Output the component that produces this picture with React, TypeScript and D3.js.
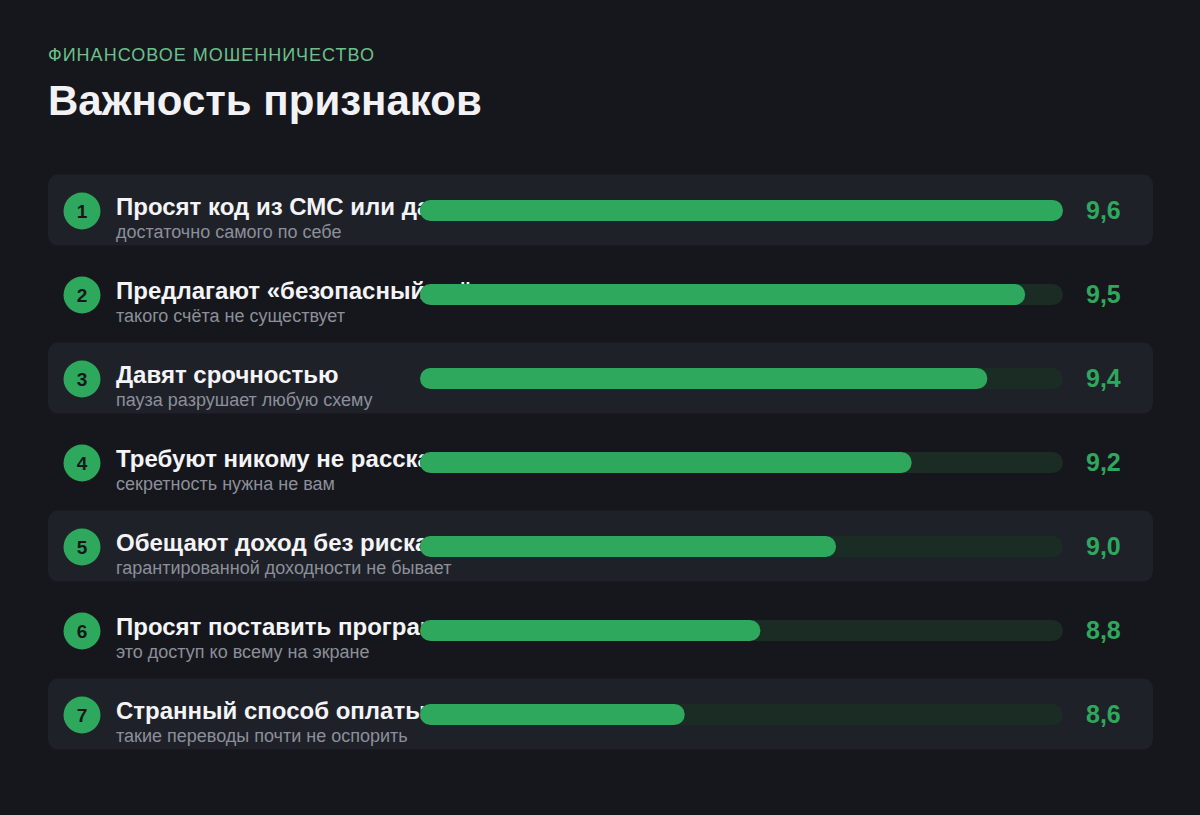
import React from "react";
import * as d3 from "d3";

const titles = [
  "Просят код из СМС или данные карты",
  "Предлагают «безопасный счёт»",
  "Давят срочностью",
  "Требуют никому не рассказывать",
  "Обещают доход без риска",
  "Просят поставить программу",
  "Странный способ оплаты",
];
const subtitles = [
  "достаточно самого по себе",
  "такого счёта не существует",
  "пауза разрушает любую схему",
  "секретность нужна не вам",
  "гарантированной доходности не бывает",
  "это доступ ко всему на экране",
  "такие переводы почти не оспорить",
];
const scores = [9.6, 9.5, 9.4, 9.2, 9.0, 8.8, 8.6];
const domainMin = 7.9;

const W = 1200;
const H = 815;
const FONT = "'Liberation Sans', Arial, Helvetica, sans-serif";

export default function App() {
  const y = d3
    .scaleBand<number>()
    .domain(d3.range(scores.length))
    .range([168, 756])
    .paddingInner(0)
    .paddingOuter(0);
  const x = d3.scaleLinear().domain([domainMin, d3.max(scores)!]).range([420, 1063]);
  const fmt = (v: number) => d3.format(".1f")(v).replace(".", ",");
  const barH = 21;

  return (
    <div style={{ position: "absolute", left: 0, top: 0 }}>
      <svg width={W} height={H} style={{ display: "block" }}>
        <rect x={0} y={0} width={W} height={H} fill="#16171c" />
        <text x={48} y={61} fill="#6cc08b" fontFamily={FONT} fontSize={18} letterSpacing={1}>
          ФИНАНСОВОЕ МОШЕННИЧЕСТВО
        </text>
        <text x={48} y={115} fill="#f2f2f5" fontFamily={FONT} fontSize={42} fontWeight="bold">
          Важность признаков
        </text>
        {scores.map((s, i) => {
          const top = y(i)!;
          const cy = top + y.bandwidth() / 2;
          return (
            <g key={i}>
              {i % 2 === 0 && (
                <rect x={48} y={cy - 35.5} width={1105} height={71} rx={10} fill="#1f2129" />
              )}
              <circle cx={82} cy={cy + 1} r={18.5} fill="#2ea85c" />
              <text
                x={82}
                y={cy + 8}
                textAnchor="middle"
                fill="#15171b"
                fontFamily={FONT}
                fontSize={19}
                fontWeight="bold"
              >
                {i + 1}
              </text>
              <text x={116} y={cy + 4.5} fill="#f4f4f6" fontFamily={FONT} fontSize={24} fontWeight="bold">
                {titles[i]}
              </text>
              <text x={116} y={cy + 27.5} fill="#8c8f99" fontFamily={FONT} fontSize={18}>
                {subtitles[i]}
              </text>
              <rect
                x={x.range()[0]}
                y={cy - barH / 2 + 0.5}
                width={x.range()[1] - x.range()[0]}
                height={barH}
                rx={barH / 2}
                fill="#1b2c24"
              />
              <rect
                x={x.range()[0]}
                y={cy - barH / 2 + 0.5}
                width={x(s) - x.range()[0]}
                height={barH}
                rx={barH / 2}
                fill="#2ea85c"
              />
              <text x={1086} y={cy + 9} fill="#2ea85c" fontFamily={FONT} fontSize={25} fontWeight="bold">
                {fmt(s)}
              </text>
            </g>
          );
        })}
      </svg>
    </div>
  );
}
